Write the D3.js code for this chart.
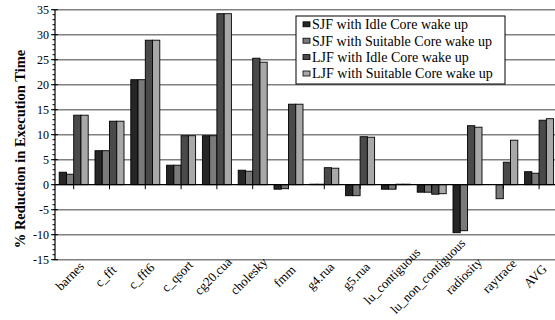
<!DOCTYPE html>
<html>
<head>
<meta charset="utf-8">
<script src="https://cdn.jsdelivr.net/npm/d3@7"></script>
<style>
  html, body { margin: 0; padding: 0; background: #fff; }
  svg { display: block; }
  text { font-family: "Liberation Serif", "Times New Roman", serif; fill: #000; }
</style>
</head>
<body>
<svg id="chart" width="555" height="320"></svg>
<script>
// Benchmarks on the category axis
const categories = ["barnes", "c_fft", "c_fft6", "c_qsort", "cg20.cua", "cholesky", "fmm",
  "g4.rua", "g5.rua", "lu_contiguous", "lu_non_contiguous", "radiosity", "raytrace", "AVG"];

// % reduction in execution time per scheduling policy
const sjfIdle     = [2.5, 6.8, 21.0, 3.9, 9.8, 2.9, -0.9, 0.1, -2.2, -0.9, -1.5, -9.6, 0.0, 2.6];
const sjfSuitable = [2.1, 6.8, 21.0, 3.9, 9.8, 2.7, -0.8, 0.1, -2.2, -0.9, -1.5, -9.2, -2.8, 2.3];
const ljfIdle     = [13.9, 12.7, 28.9, 9.8, 34.2, 25.3, 16.1, 3.4, 9.6, 0.1, -1.9, 11.8, 4.5, 12.9];
const ljfSuitable = [13.9, 12.7, 28.9, 9.8, 34.2, 24.5, 16.1, 3.3, 9.5, 0.1, -1.8, 11.5, 8.9, 13.2];

const seriesNames = ["SJF with Idle Core wake up", "SJF with Suitable Core wake up",
  "LJF with Idle Core wake up", "LJF with Suitable Core wake up"];
const seriesValues = [sjfIdle, sjfSuitable, ljfIdle, ljfSuitable];
const seriesColors = ["#262626", "#7a7a7a", "#4a4a4a", "#a8a8a8"];

const yTicks = [-15, -10, -5, 0, 5, 10, 15, 20, 25, 30, 35];

const svg = d3.select("#chart");

const plot = { left: 55, right: 557, top: 9.7, bottom: 259.7 };

const y = d3.scaleLinear().domain([-15, 35]).range([plot.bottom, plot.top]);
const x = d3.scaleBand().domain(categories)
  .range([plot.left + 0.8, plot.right])
  .paddingInner(0.19).paddingOuter(0.095);
const xs = d3.scaleBand().domain(d3.range(seriesNames.length))
  .range([0, x.bandwidth()]);

// Horizontal gridlines
svg.append("g").selectAll("line")
  .data(yTicks.filter(t => t !== 0))
  .join("line")
  .attr("x1", plot.left).attr("x2", 555)
  .attr("y1", d => y(d)).attr("y2", d => y(d))
  .attr("stroke", "#808080").attr("stroke-width", 1.4);

// Bars
const rows = categories.map((c, i) => ({ c, vals: seriesValues.map(s => s[i]) }));
svg.append("g").selectAll("g")
  .data(rows)
  .join("g")
  .attr("transform", d => `translate(${x(d.c)},0)`)
  .selectAll("rect")
  .data(d => d.vals.map((v, k) => ({ v, k })))
  .join("rect")
  .attr("x", d => xs(d.k))
  .attr("width", xs.bandwidth())
  .attr("y", d => y(Math.max(0, d.v)))
  .attr("height", d => Math.abs(y(d.v) - y(0)))
  .attr("fill", d => seriesColors[d.k])
  .attr("stroke", "#000").attr("stroke-width", 0.9);

// Category axis along zero
const xAxis = svg.append("g").attr("transform", `translate(0,${y(0)})`);
xAxis.append("line").attr("x1", plot.left).attr("x2", 555)
  .attr("stroke", "#000").attr("stroke-width", 1.2);
xAxis.selectAll("line.tick").data(categories).join("line")
  .attr("class", "tick")
  .attr("x1", d => x(d) + x.bandwidth() / 2).attr("x2", d => x(d) + x.bandwidth() / 2)
  .attr("y1", 0).attr("y2", 4.5)
  .attr("stroke", "#000").attr("stroke-width", 1);

// Rotated category labels
svg.append("g").selectAll("text")
  .data(categories)
  .join("text")
  .attr("transform", d => `translate(${x(d) + x.bandwidth() / 2 - 4},276) rotate(-45)`)
  .attr("text-anchor", "middle")
  .attr("dy", "0.35em")
  .style("font-size", "13px")
  .text(d => d);

// Value axis with minor ticks
const yAxis = svg.append("g").attr("transform", `translate(${plot.left},0)`);
yAxis.append("line").attr("y1", plot.top).attr("y2", plot.bottom)
  .attr("stroke", "#000").attr("stroke-width", 1.2);
yAxis.selectAll("line.minor").data(d3.range(-15, 36, 1)).join("line")
  .attr("class", "minor")
  .attr("x1", -2.5).attr("x2", 0)
  .attr("y1", d => y(d)).attr("y2", d => y(d))
  .attr("stroke", "#000").attr("stroke-width", 1);
yAxis.selectAll("line.major").data(yTicks).join("line")
  .attr("class", "major")
  .attr("x1", -4).attr("x2", 3)
  .attr("y1", d => y(d)).attr("y2", d => y(d))
  .attr("stroke", "#000").attr("stroke-width", 1);
yAxis.selectAll("text").data(yTicks).join("text")
  .attr("x", -6).attr("y", d => y(d))
  .attr("dy", "0.35em")
  .attr("text-anchor", "end")
  .style("font-size", "12px")
  .text(d => d);

// Value axis title
svg.append("text")
  .attr("transform", `translate(20,149) rotate(-90)`)
  .attr("text-anchor", "middle")
  .attr("dy", "0.35em")
  .style("font-size", "14.5px")
  .style("font-weight", "bold")
  .text("% Reduction in Execution Time");

// Legend
const legend = svg.append("g").attr("transform", "translate(296,16)");
legend.append("rect").attr("width", 209).attr("height", 68)
  .attr("fill", "#fff").attr("stroke", "#000").attr("stroke-width", 1);
const items = legend.selectAll("g.item").data(seriesNames).join("g")
  .attr("class", "item")
  .attr("transform", (d, i) => `translate(0,${8.3 + i * 16.4})`);
items.append("rect")
  .attr("x", 7).attr("y", -2.5).attr("width", 7).attr("height", 5)
  .attr("fill", (d, i) => seriesColors[i]).attr("stroke", "#000").attr("stroke-width", 0.8);
items.append("text")
  .attr("x", 16).attr("dy", "0.35em")
  .style("font-size", "14px")
  .text(d => d);
</script>
</body>
</html>
